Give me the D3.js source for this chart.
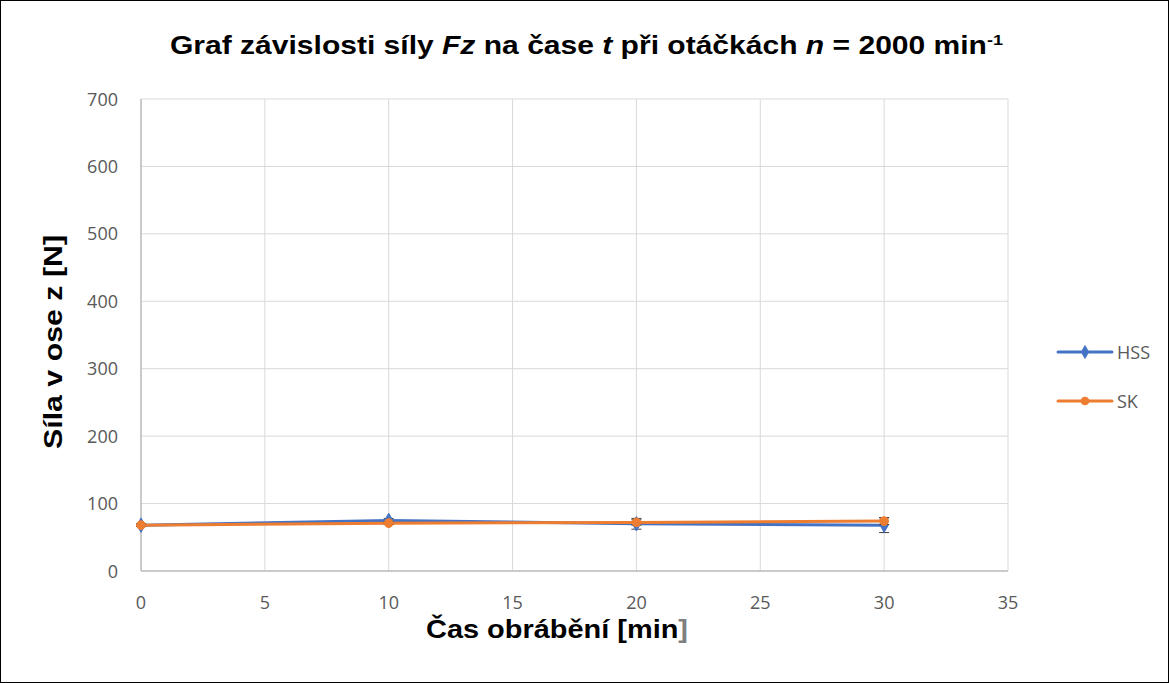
<!DOCTYPE html>
<html>
<head>
<meta charset="utf-8">
<script src="https://cdn.jsdelivr.net/npm/d3@7"></script>
<style>
body { margin: 0; background: white; }
text { font-family: "Liberation Sans", Arial, sans-serif; }
</style>
</head>
<body>
<div id="canvas"></div>
<script>
var w = 1169;
var h = 683;

var times = [0, 10, 20, 30];
var hss = [68, 75, 70, 68];
var hssErr = [2, 3, 8, 11];
var sk = [68, 71, 72, 74];
var skErr = [2, 2, 4, 5];
var xTicks = [0, 5, 10, 15, 20, 25, 30, 35];
var yTicks = [0, 100, 200, 300, 400, 500, 600, 700];

var series = [
    {name: "HSS", values: hss, err: hssErr, color: "#4472C4", symbol: d3.symbolDiamond},
    {name: "SK", values: sk, err: skErr, color: "#ED7D31", symbol: d3.symbolCircle}
];

var xScale = d3.scaleLinear().domain([0, 35]).range([141, 1008]);
var yScale = d3.scaleLinear().domain([0, 700]).range([571, 99]);

var canvas = d3.select("#canvas")
    .append("svg")
    .attr("width", w)
    .attr("height", h)
    .style("display", "block");

canvas.append("rect")
    .attr("x", 0.5).attr("y", 0.5)
    .attr("width", w - 1).attr("height", h - 1)
    .attr("fill", "white")
    .attr("stroke", "black");

// grid
canvas.append("g")
    .selectAll("line")
    .data(yTicks)
    .join("line")
    .attr("x1", xScale(0)).attr("x2", xScale(35))
    .attr("y1", d => yScale(d)).attr("y2", d => yScale(d))
    .attr("stroke", "#d9d9d9")
    .attr("stroke-width", 1);

canvas.append("g")
    .selectAll("line")
    .data(xTicks)
    .join("line")
    .attr("x1", d => xScale(d)).attr("x2", d => xScale(d))
    .attr("y1", yScale(0)).attr("y2", yScale(700))
    .attr("stroke", "#d9d9d9")
    .attr("stroke-width", 1);

// axis lines
canvas.append("line")
    .attr("x1", xScale(0)).attr("x2", xScale(35))
    .attr("y1", yScale(0)).attr("y2", yScale(0))
    .attr("stroke", "#bfbfbf").attr("stroke-width", 1.5);
canvas.append("line")
    .attr("x1", xScale(0)).attr("x2", xScale(0))
    .attr("y1", yScale(0)).attr("y2", yScale(700))
    .attr("stroke", "#bfbfbf").attr("stroke-width", 1.5);

// tick labels
canvas.append("g")
    .selectAll("text")
    .data(xTicks)
    .join("text")
    .attr("x", d => xScale(d))
    .attr("y", 609)
    .attr("text-anchor", "middle")
    .attr("fill", "#595959")
    .style("font-family", "'Open Sans', sans-serif")
    .style("font-size", "18px")
    .text(d => d);

canvas.append("g")
    .selectAll("text")
    .data(yTicks)
    .join("text")
    .attr("x", 118)
    .attr("y", d => yScale(d) + 6.5)
    .attr("text-anchor", "end")
    .attr("fill", "#595959")
    .style("font-family", "'Open Sans', sans-serif")
    .style("font-size", "18px")
    .text(d => d);

// title
var title = canvas.append("text")
    .attr("x", 170)
    .attr("y", 54)
    .attr("textLength", 833)
    .attr("lengthAdjust", "spacingAndGlyphs")
    .style("font-size", "25px")
    .style("font-weight", "bold");
title.append("tspan").text("Graf závislosti síly ");
title.append("tspan").style("font-style", "italic").text("Fz");
title.append("tspan").text(" na čase ");
title.append("tspan").style("font-style", "italic").text("t");
title.append("tspan").text(" při otáčkách ");
title.append("tspan").style("font-style", "italic").text("n");
title.append("tspan").text(" = 2000 min");
title.append("tspan").attr("dy", -9).style("font-size", "15px").text("-1");

// axis titles
var xt = canvas.append("text")
    .attr("x", 426)
    .attr("y", 638)
    .attr("textLength", 262)
    .attr("lengthAdjust", "spacingAndGlyphs")
    .style("font-size", "26px")
    .style("font-weight", "bold");
xt.append("tspan").text("Čas obrábění [min");
xt.append("tspan").attr("fill", "#7f7f7f").text("]");

canvas.append("text")
    .attr("transform", "translate(62, 342) rotate(-90)")
    .attr("x", -107)
    .attr("textLength", 214)
    .attr("lengthAdjust", "spacingAndGlyphs")
    .style("font-size", "26px")
    .style("font-weight", "bold")
    .text("Síla v ose z [N]");

// series
var line = d3.line()
    .x((d, i) => xScale(times[i]))
    .y(d => yScale(d));

series.forEach(function (s) {
    var g = canvas.append("g");
    g.append("path")
        .attr("d", line(s.values))
        .attr("fill", "none")
        .attr("stroke", s.color)
        .attr("stroke-width", 3)
        .attr("stroke-linejoin", "round")
        .attr("stroke-linecap", "round");

    var eb = g.selectAll("g.err")
        .data(s.values)
        .join("g")
        .attr("class", "err");
    eb.append("line")
        .attr("x1", (d, i) => xScale(times[i])).attr("x2", (d, i) => xScale(times[i]))
        .attr("y1", (d, i) => yScale(d - s.err[i])).attr("y2", (d, i) => yScale(d + s.err[i]))
        .attr("stroke", "#404040").attr("stroke-width", 1);
    [-1, 1].forEach(function (sign) {
        eb.append("line")
            .attr("x1", (d, i) => xScale(times[i]) - 5).attr("x2", (d, i) => xScale(times[i]) + 5)
            .attr("y1", (d, i) => yScale(d + sign * s.err[i]))
            .attr("y2", (d, i) => yScale(d + sign * s.err[i]))
            .attr("stroke", "#404040").attr("stroke-width", 1);
    });

    g.selectAll("path.mark")
        .data(s.values)
        .join("path")
        .attr("class", "mark")
        .attr("d", d3.symbol().type(s.symbol).size(60))
        .attr("fill", s.color)
        .attr("stroke", s.color)
        .attr("transform", (d, i) => `translate(${xScale(times[i])}, ${yScale(d)})`);
});

// legend
series.forEach(function (s, k) {
    var lg = canvas.append("g")
        .attr("transform", `translate(1058, ${352 + k * 49})`);
    lg.append("line")
        .attr("x1", 0).attr("x2", 54)
        .attr("y1", 0).attr("y2", 0)
        .attr("stroke", s.color)
        .attr("stroke-width", 3)
        .attr("stroke-linecap", "round");
    lg.append("path")
        .attr("d", d3.symbol().type(s.symbol).size(60))
        .attr("fill", s.color)
        .attr("transform", "translate(27, 0)");
    lg.append("text")
        .attr("x", 59)
        .attr("y", 6.5)
        .attr("fill", "#595959")
        .style("font-family", "'Open Sans', sans-serif")
        .style("font-size", "18px")
        .text(s.name);
});
</script>
</body>
</html>
